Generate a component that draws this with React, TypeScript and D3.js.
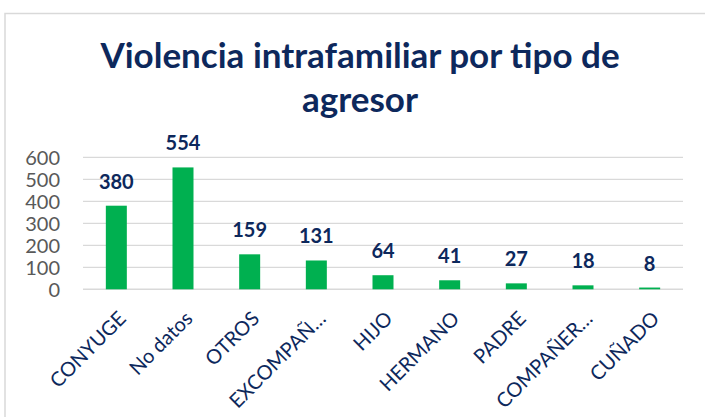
import React from "react";
import * as d3 from "d3";

const categories = ["CONYUGE", "No datos", "OTROS", "EXCOMPAÑ…", "HIJO", "HERMANO", "PADRE", "COMPAÑER…", "CUÑADO"];
const values = [380, 554, 159, 131, 64, 41, 27, 18, 8];
const yTicks = [0, 100, 200, 300, 400, 500, 600];
const titleLines = ["Violencia intrafamiliar por tipo de", "agresor"];

const W = 705;
const H = 417;
const FONT = "Lato, 'Open Sans', sans-serif";
const NAVY = "#0D285C";

export default function App() {
  const left = 83;
  const right = 683;
  const x = d3.scaleBand<string>().domain(categories).range([left, right]).paddingInner(0.685).paddingOuter(0.3425);
  const y = d3.scaleLinear().domain([0, 600]).range([289.3, 157.3]);

  return (
    <svg width={W} height={H} style={{ position: "absolute", left: 0, top: 0, background: "#fff" }}>
      <rect x={5} y={13.5} width={W + 20} height={H + 20} fill="#fff" stroke="#d9d9d9" strokeWidth={1.5} />
      {titleLines.map((t, i) => (
        <text key={i} x={360} y={68 + i * 44} textAnchor="middle" fontFamily={FONT} fontWeight={700} fontSize={35} fill={NAVY}>
          {t}
        </text>
      ))}
      {yTicks.map((t) => (
        <g key={t}>
          <line x1={left} x2={right} y1={y(t)} y2={y(t)} stroke="#d9d9d9" strokeWidth={t === 0 ? 1.5 : 1.3} />
          <text x={60} y={y(t)} dy="0.36em" textAnchor="end" fontFamily={FONT} fontSize={20} fill="#595959">
            {t}
          </text>
        </g>
      ))}
      {categories.map((c, i) => {
        const bx = x(c)!;
        const bw = x.bandwidth();
        const cx = bx + bw / 2;
        return (
          <g key={c}>
            <rect x={bx} y={y(values[i])} width={bw} height={y(0) - y(values[i])} fill="#00B050" />
            <text x={cx} y={y(values[i]) - 17} textAnchor="middle" fontFamily={FONT} fontWeight={700} fontSize={20} fill={NAVY}>
              {values[i]}
            </text>
            <text
              transform={`translate(${cx + 1},${310}) rotate(-45)`}
              textAnchor="end"
              dy="0.7em"
              fontFamily={FONT}
              fontSize={20}
              fill={NAVY}
            >
              {c}
            </text>
          </g>
        );
      })}
    </svg>
  );
}
